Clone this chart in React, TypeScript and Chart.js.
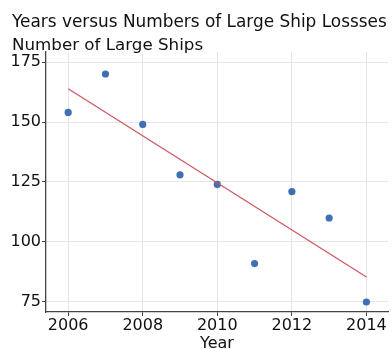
import React, { useEffect, useRef } from "react";
import { Chart, registerables } from "chart.js";

Chart.register(...registerables);

const years = [2006, 2007, 2008, 2009, 2010, 2011, 2012, 2013, 2014];
const shipLosses = [154, 170, 149, 128, 124, 91, 121, 110, 75];
const trendYears = [2006, 2014];
const trendValues = [163.9, 85.4];
const xTicks = [2006, 2008, 2010, 2012, 2014];
const yTicks = [75, 100, 125, 150, 175];
const titleText = "Years versus Numbers of Large Ship Lossses";
const yTitleText = "Number of Large Ships";
const xTitleText = "Year";

const FONT = "'DejaVu Sans', Verdana, sans-serif";

export default function App() {
  const ref = useRef<HTMLCanvasElement | null>(null);

  useEffect(() => {
    if (!ref.current) return;
    const titlesPlugin = {
      id: "titles",
      afterDraw(chart: any) {
        const ctx = chart.ctx;
        ctx.save();
        ctx.fillStyle = "#111";
        ctx.font = `16.9px ${FONT}`;
        ctx.textAlign = "left";
        ctx.textBaseline = "alphabetic";
        ctx.fillText(titleText, 12, 27);
        ctx.font = `16.7px ${FONT}`;
        ctx.fillText(yTitleText, 12, 50);
        ctx.restore();
      },
    };
    const chart = new Chart(ref.current, {
      type: "scatter",
      data: {
        datasets: [
          {
            label: "Trend",
            type: "line",
            data: trendYears.map((x, i) => ({ x, y: trendValues[i] })),
            borderColor: "#cc5560",
            borderWidth: 1.2,
            pointRadius: 0,
            fill: false,
          },
          {
            label: "Ships",
            data: years.map((x, i) => ({ x, y: shipLosses[i] })),
            backgroundColor: "#3d70b5",
            borderColor: "#3d70b5",
            pointRadius: 3.6,
            pointBorderWidth: 0,
          },
        ],
      },
      options: {
        animation: false,
        responsive: false,
        devicePixelRatio: 1,
        layout: { padding: { top: 52, right: 2, left: 0, bottom: 0 } },
        plugins: {
          legend: { display: false },
          title: { display: false },
          tooltip: { enabled: false },
        },
        scales: {
          x: {
            type: "linear",
            min: 2005.405,
            max: 2014.579,
            afterBuildTicks: (s: any) => {
              s.ticks = xTicks.map((v) => ({ value: v }));
            },
            afterFit: (s: any) => {
              s.height = 37;
            },
            grid: {
              color: "#e6e6e6",
              tickColor: "#444",
              tickLength: 4,
              lineWidth: 1,
            },
            border: { color: "#444", width: 1.3 },
            ticks: {
              color: "#111",
              font: { family: FONT, size: 16 },
              padding: 0,
              maxRotation: 0,
              callback: (v: any) => String(v),
            },
            title: {
              display: true,
              text: xTitleText,
              color: "#111",
              font: { family: FONT, size: 16 },
              padding: { top: 0, bottom: -4 },
            },
          },
          y: {
            type: "linear",
            min: 70.83,
            max: 179.17,
            afterBuildTicks: (s: any) => {
              s.ticks = yTicks.map((v) => ({ value: v }));
            },
            afterFit: (s: any) => {
              s.width = 46;
            },
            grid: {
              color: "#e6e6e6",
              tickColor: "#444",
              tickLength: 4,
              lineWidth: 1,
            },
            border: { color: "#444", width: 1.3 },
            ticks: {
              color: "#111",
              font: { family: FONT, size: 16 },
              padding: 1,
            },
          },
        },
      },
      plugins: [titlesPlugin],
    });
    return () => chart.destroy();
  }, []);

  return (
    <div style={{ position: "fixed", left: 0, top: 0, width: 392, height: 349, background: "#fff" }}>
      <canvas ref={ref} width={392} height={349} style={{ width: 392, height: 349, display: "block" }} />
    </div>
  );
}
